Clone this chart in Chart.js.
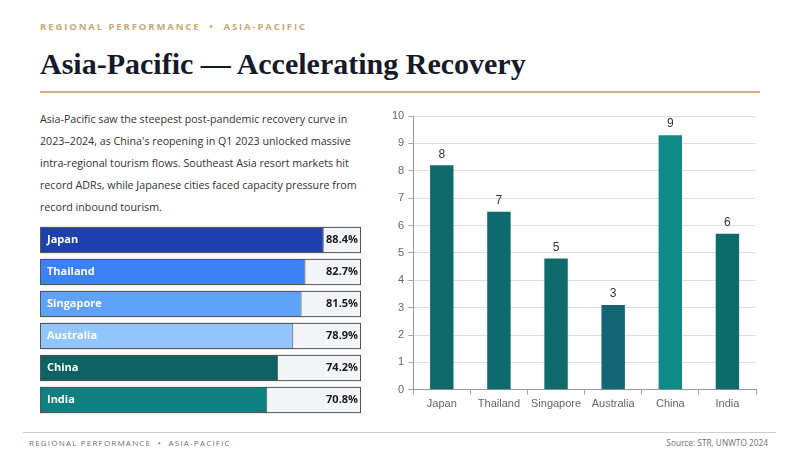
<!DOCTYPE html>
<html>
<head>
<meta charset="utf-8">
<script src="https://cdn.jsdelivr.net/npm/chart.js@4.4.1/dist/chart.umd.min.js"></script>
<style>
  body { margin:0; width:800px; height:450px; background:#fff; position:relative; overflow:hidden; font-family:"Open Sans", sans-serif; }
  .kicker { position:absolute; left:40px; top:20px; font-size:9.5px; font-weight:700; letter-spacing:1.9px; color:#c9a878; }
  .title { position:absolute; left:40px; top:47px; font-family:"Liberation Serif", serif; font-weight:700; font-size:30px; color:#161a2b; }
  .rule { position:absolute; left:40px; top:91px; width:720px; height:2px; background:#d2b27e; }
  .intro { position:absolute; left:40px; top:108px; width:330px; font-size:10.7px; line-height:22px; color:#333; }
  #rowsBox { position:absolute; left:40px; top:224px; width:321px; height:192px; }
  #barBox { position:absolute; left:380px; top:100px; width:390px; height:316px; }
  .foot { position:absolute; left:23px; top:432px; width:753px; border-top:1px solid #cfcfcf; }
  .foot span { position:absolute; top:4px; font-size:8px; color:#707070; }
  .foot .l { left:6px; letter-spacing:1.2px; }
  .foot .r { right:8px; font-size:8.3px; }
</style>
</head>
<body>
<div class="kicker">REGIONAL PERFORMANCE &nbsp;•&nbsp; ASIA-PACIFIC</div>
<div class="title">Asia-Pacific — Accelerating Recovery</div>
<div class="rule"></div>
<div class="intro">Asia-Pacific saw the steepest post-pandemic recovery curve in<br>2023–2024, as China's reopening in Q1 2023 unlocked massive<br>intra-regional tourism flows. Southeast Asia resort markets hit<br>record ADRs, while Japanese cities faced capacity pressure from<br>record inbound tourism.</div>
<div id="rowsBox"><canvas id="rowsChart"></canvas></div>
<div id="barBox"><canvas id="barChart"></canvas></div>
<div class="foot"><span class="l">REGIONAL PERFORMANCE &nbsp;•&nbsp; ASIA-PACIFIC</span><span class="r">Source: STR, UNWTO 2024</span></div>

<script>
// left panel: recovery rate vs 2019 (%)
let markets = ['Japan', 'Thailand', 'Singapore', 'Australia', 'China', 'India'];
let recovery = [88.4, 82.7, 81.5, 78.9, 74.2, 70.8];
let rowColors = ['#1e3fae', '#3b82f6', '#5ea3f9', '#93c5fd', '#0d6262', '#0f8080'];

// right panel: growth score
let growth = [8.2, 6.5, 4.8, 3.1, 9.3, 5.7];
let growthColors = ['#0f6b6b', '#0f6a70', '#0f6b6b', '#136673', '#0f8a88', '#0f6c6c'];
let yTicks = [0, 1, 2, 3, 4, 5, 6, 7, 8, 9, 10];

// track behind each row + text on top
let rowDecor = {
  id: 'rowDecor',
  beforeDatasetsDraw(chart) {
    let ctx = chart.ctx, area = chart.chartArea;
    ctx.save();
    chart.getDatasetMeta(0).data.forEach(bar => {
      let top = bar.y - bar.height / 2;
      ctx.fillStyle = '#f3f4f8';
      ctx.fillRect(area.left, top, area.right - area.left, bar.height);
    });
    ctx.restore();
  },
  afterDatasetsDraw(chart) {
    let ctx = chart.ctx, area = chart.chartArea;
    ctx.save();
    ctx.font = 'bold 11px "Open Sans", sans-serif';
    ctx.textBaseline = 'middle';
    chart.getDatasetMeta(0).data.forEach((bar, i) => {
      let top = bar.y - bar.height / 2;
      ctx.strokeStyle = '#555';
      ctx.lineWidth = 1;
      ctx.strokeRect(area.left + 0.5, top + 0.5, area.right - area.left - 1, bar.height - 1);
      ctx.fillStyle = '#ffffff';
      ctx.textAlign = 'left';
      ctx.fillText(markets[i], area.left + 7, bar.y);
      ctx.fillStyle = '#1a1a1a';
      ctx.textAlign = 'right';
      ctx.fillText(recovery[i].toFixed(1) + '%', area.right - 3, bar.y);
    });
    ctx.restore();
  }
};

new Chart(document.getElementById('rowsChart').getContext('2d'), {
  type: 'bar',
  data: {
    labels: markets,
    datasets: [{
      data: recovery,
      backgroundColor: rowColors,
      borderColor: '#555',
      borderWidth: 1,
      borderSkipped: false,
      categoryPercentage: 1,
      barPercentage: 0.82
    }]
  },
  options: {
    indexAxis: 'y',
    responsive: true,
    maintainAspectRatio: false,
    animation: false,
    layout: { padding: 0 },
    plugins: { legend: { display: false }, tooltip: { enabled: false } },
    scales: {
      x: { display: false, min: 0, max: 100 },
      y: { display: false }
    }
  },
  plugins: [rowDecor]
});

let valueLabels = {
  id: 'valueLabels',
  afterDatasetsDraw(chart) {
    let ctx = chart.ctx;
    ctx.save();
    ctx.font = '12px "Liberation Sans", Arial, sans-serif';
    ctx.fillStyle = '#333';
    ctx.textAlign = 'center';
    ctx.textBaseline = 'bottom';
    chart.getDatasetMeta(0).data.forEach((bar, i) => {
      ctx.fillText(Math.round(growth[i]), bar.x, bar.y - 5);
    });
    ctx.restore();
  }
};

new Chart(document.getElementById('barChart').getContext('2d'), {
  type: 'bar',
  data: {
    labels: markets,
    datasets: [{
      data: growth,
      backgroundColor: growthColors,
      categoryPercentage: 0.82,
      barPercentage: 0.5
    }]
  },
  options: {
    responsive: true,
    maintainAspectRatio: false,
    animation: false,
    layout: { padding: { top: 16, right: 14, left: 8, bottom: 2 } },
    plugins: { legend: { display: false }, tooltip: { enabled: false } },
    scales: {
      x: {
        grid: { display: true, drawOnChartArea: false, drawTicks: true, tickLength: 5, color: '#aaa' },
        border: { color: '#999' },
        ticks: { color: '#666', font: { family: '"Liberation Sans", Arial', size: 11 } }
      },
      y: {
        min: 0, max: 10,
        afterBuildTicks: axis => { axis.ticks = yTicks.map(v => ({ value: v })); },
        grid: { color: '#dedede', tickLength: 5, tickColor: '#aaa' },
        border: { color: '#999' },
        ticks: { color: '#666', padding: 4, font: { family: '"Liberation Sans", Arial', size: 11 } }
      }
    }
  },
  plugins: [valueLabels]
});
</script>
</body>
</html>
